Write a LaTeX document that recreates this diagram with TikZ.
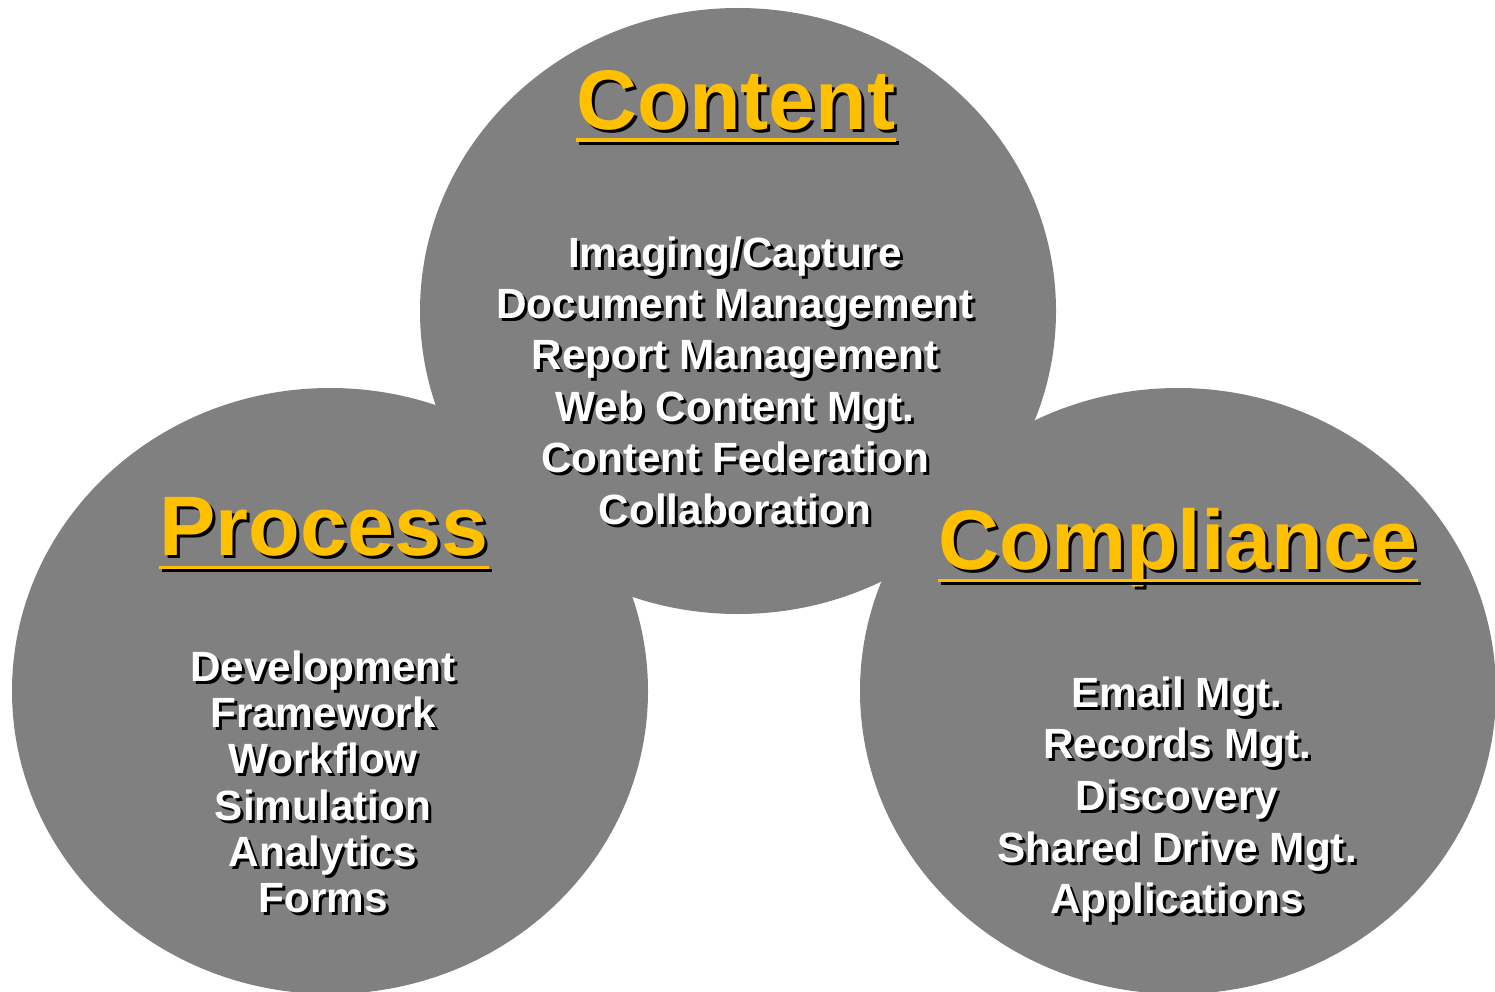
\documentclass[tikz,border=0pt]{standalone}
\usepackage{fontspec}
\setmainfont{Liberation Sans}
\usetikzlibrary{calc}
\definecolor{discgray}{HTML}{808080}
\definecolor{titlegold}{HTML}{FFC000}
\tikzset{
  disc/.style={fill=discgray, draw=none},
  titletxt/.style={inner sep=0pt, anchor=base, font=\fontsize{84.5}{90}\selectfont\bfseries},
  itemtxt/.style={inner sep=0pt, anchor=base, font=\fontsize{42.3}{46}\selectfont\bfseries},
  uline/.style={titlegold, line width=3.6pt},
  ulineshadow/.style={black, line width=3.6pt},
}
% text with a black drop shadow 3pt right and 3pt down
\newcommand{\shtext}[2]{\rlap{\hspace{3pt}\raisebox{-3pt}{\color{black}#2}}{\color{#1}#2}}
\begin{document}
\begin{tikzpicture}[x=1pt, y=-1pt]
\useasboundingbox (0,0) rectangle (1495,992);
\begin{scope}
\clip (0,0) rectangle (1495,992);
\fill[disc] (330,691) ellipse [x radius=318, y radius=303];
\fill[disc] (1178,691) ellipse [x radius=318, y radius=303];
\fill[disc] (738,311) ellipse [x radius=318, y radius=303];
\end{scope}

% titles
\node[titletxt] (content) at (736,130) {\shtext{titlegold}{Content}};
\node[titletxt] (process) at (324,555) {\shtext{titlegold}{Process}};
\node[titletxt] (compliance) at (1178,569) {\shtext{titlegold}{Compliance}};
\foreach \t/\d in {content/10, process/12.5, compliance/11.5}{
  \draw[ulineshadow] ($(\t.base west)+(3,\d+3)$) -- ($(\t.base east)+(3,\d+3)$);
  \draw[uline] ($(\t.base west)+(0,\d)$) -- ($(\t.base east)+(0,\d)$);
}

% content items
\foreach \txt [count=\i from 0] in {Imaging/Capture, Document Management, Report Management, Web Content Mgt., Content Federation, Collaboration}{
  \node[itemtxt] (ci\i) at (735,267+51.4*\i) {\shtext{white}{\txt}};
}
% process items
\foreach \txt [count=\i from 0] in {Development, Framework, Workflow, Simulation, Analytics, Forms}{
  \node[itemtxt] (pi\i) at (323,681.5+46.2*\i) {\shtext{white}{\txt}};
}
% compliance items
\foreach \txt [count=\i from 0] in {Email Mgt., Records Mgt., Discovery, Shared Drive Mgt., Applications}{
  \node[itemtxt] (mi\i) at (1177,707+51.7*\i) {\shtext{white}{\txt}};
}
\end{tikzpicture}
\end{document}
